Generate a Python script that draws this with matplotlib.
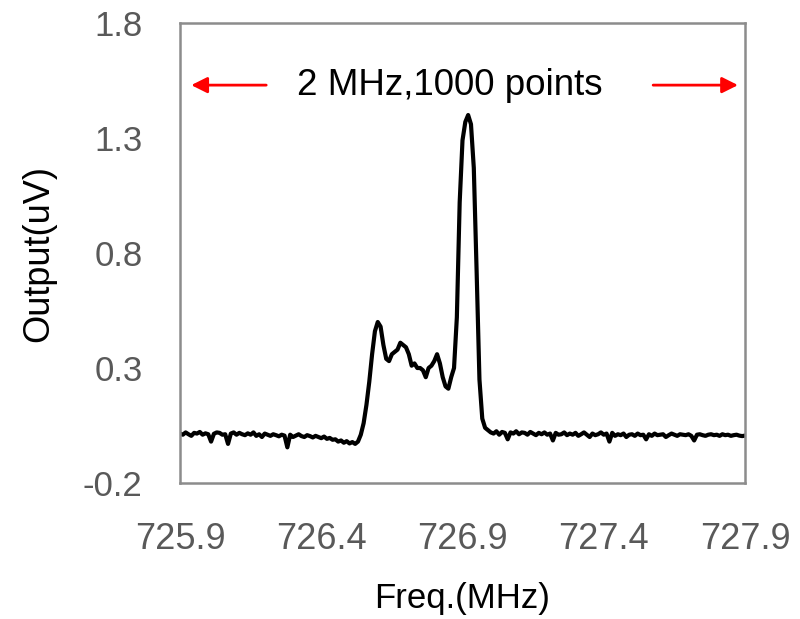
import numpy as np
import matplotlib
matplotlib.use("Agg")
import matplotlib.pyplot as plt

plt.rcParams["font.family"] = ["Liberation Sans", "DejaVu Sans"]

# ============================================================
# 資料（從圖上估讀，間隔 0.01 MHz）
# ============================================================
freq_start, freq_stop, freq_step = 725.90, 727.90, 0.01

# 725.90 ~ 726.51 左側基線
baseline_left = [
    0.015, 0.010, 0.020, 0.012, 0.005, 0.018, 0.015, 0.022, 0.010, 0.016,
    0.012, -0.020, 0.014, 0.020, 0.018, 0.010, 0.012, -0.030, 0.015, 0.020,
    0.010, 0.018, 0.012, 0.008, 0.016, 0.010, 0.020, 0.005, 0.012, 0.000,
    0.015, 0.010, 0.005, 0.012, 0.008, 0.003, 0.010, 0.006, -0.045, 0.010,
    0.000, 0.006, 0.012, 0.004, 0.000, 0.008, 0.004, -0.002, 0.005, 0.000,
    -0.005, 0.002, -0.008, -0.004, -0.012, -0.010, -0.020, -0.015, -0.025, -0.018,
    -0.028, -0.022,
]

# 726.52 ~ 726.99 訊號區
signal = [
    -0.03, -0.02, 0.01, 0.06, 0.14, 0.24, 0.36, 0.46, 0.50, 0.48,
    0.40, 0.34, 0.33, 0.36, 0.37, 0.38, 0.41, 0.40, 0.39, 0.36,
    0.31, 0.32, 0.30, 0.30, 0.29, 0.26, 0.30, 0.31, 0.33, 0.36,
    0.32, 0.26, 0.22, 0.21, 0.26, 0.30, 0.52, 1.02, 1.29, 1.37,
    1.40, 1.36, 1.17, 0.72, 0.25, 0.08, 0.04, 0.03,
]

# 727.00 ~ 727.90 右側基線
baseline_right = [
    0.020, 0.015, 0.025, 0.010, 0.022, 0.018, -0.010, 0.020, 0.015, 0.025,
    0.012, 0.020, 0.018, 0.010, 0.022, 0.015, 0.008, 0.018, 0.012, 0.020,
    0.010, 0.015, -0.015, 0.018, 0.010, 0.012, 0.020, 0.008, 0.015, 0.010,
    0.018, 0.005, 0.012, 0.020, 0.010, 0.000, 0.015, 0.008, 0.012, 0.020,
    0.010, 0.015, -0.020, 0.018, 0.005, 0.012, 0.008, 0.015, 0.000, 0.010,
    0.012, 0.005, 0.015, 0.008, 0.010, -0.010, 0.012, 0.005, 0.015, 0.008,
    0.010, 0.012, 0.000, 0.008, 0.015, 0.010, 0.005, 0.012, 0.010, 0.008,
    0.012, 0.005, -0.015, 0.010, 0.012, 0.008, 0.005, 0.010, 0.012, 0.008,
    0.010, 0.005, 0.012, 0.008, 0.010, 0.005, 0.008, 0.010, 0.006, 0.004,
    0.006,
]

x_ticks = [725.9, 726.4, 726.9, 727.4, 727.9]
x_ticklabels = ["725.9", "726.4", "726.9", "727.4", "727.9"]
y_ticks = [-0.2, 0.3, 0.8, 1.3, 1.8]
y_ticklabels = ["-0.2", "0.3", "0.8", "1.3", "1.8"]

output = np.array(baseline_left + signal + baseline_right)
freq = np.round(freq_start + freq_step * np.arange(len(output)), 2)

# ============================================================
# 畫圖
# ============================================================
fig = plt.figure(figsize=(8, 6.19), dpi=100)
ax = fig.add_axes([0.225, 0.2197, 0.70625, 0.7431])

ax.plot(freq, output, color="black", lw=3.0,
        solid_joinstyle="round", solid_capstyle="round")

ax.set_xlim(freq_start, freq_stop)
ax.set_ylim(-0.2, 1.8)
ax.set_xticks(x_ticks)
ax.set_xticklabels(x_ticklabels)
ax.set_yticks(y_ticks)
ax.set_yticklabels(y_ticklabels)
ax.tick_params(length=0, colors="#595959")
ax.tick_params(axis="x", labelsize=26, pad=28)
ax.tick_params(axis="y", labelsize=25, pad=27)

for sp in ax.spines.values():
    sp.set_color("#8c8c8c")
    sp.set_linewidth(1.8)

ax.set_xlabel("Freq.(MHz)", fontsize=25, labelpad=18)
ax.set_ylabel("Output(uV)", fontsize=26, labelpad=19)

# 標註：2 MHz, 1000 points
ax.text(726.856, 1.53, "2 MHz,1000 points", fontsize=26.5, ha="center", va="center")
arrow = dict(arrowstyle="-|>", color="red", lw=2.0, mutation_scale=24)
ax.annotate("", xy=(725.93, 1.53), xytext=(726.215, 1.53), arrowprops=arrow)
ax.annotate("", xy=(727.885, 1.53), xytext=(727.565, 1.53), arrowprops=arrow)

fig.savefig("out.png", dpi=100)
